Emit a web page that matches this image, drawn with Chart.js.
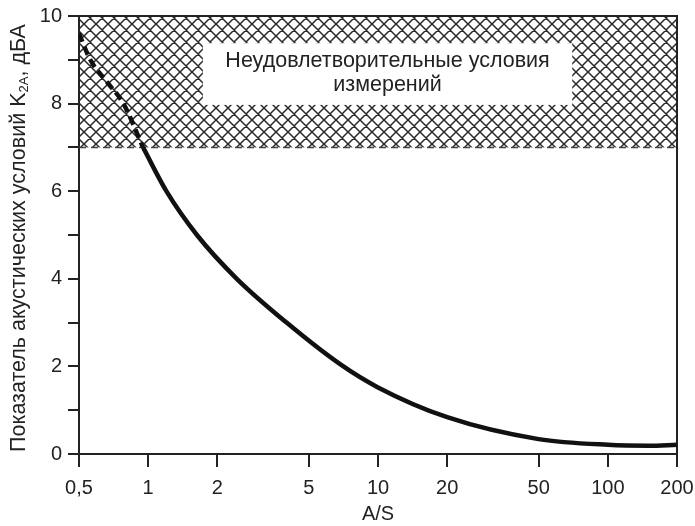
<!DOCTYPE html>
<html>
<head>
<meta charset="utf-8">
<script src="https://cdn.jsdelivr.net/npm/chart.js@4.4.0/dist/chart.umd.min.js"></script>
<style>
  html, body { margin: 0; padding: 0; background: #fff; }
  #wrap { width: 695px; height: 526px; }
</style>
</head>
<body>
<div id="wrap"><canvas id="k2aChart"></canvas></div>
<script>
// A/S ticks and the K2A curve
const xTicks = [0.5, 1, 2, 5, 10, 20, 50, 100, 200];
const dashedAS = [0.5, 0.56, 0.66, 0.78, 0.95];
const dashedK = [9.6, 9.0, 8.5, 8.0, 7.0];
const solidAS = [0.95, 1.2, 1.63, 2.43, 4.0, 6.84, 10, 20, 50, 100, 150, 200];
const solidK = [7.0, 6.0, 5.0, 4.0, 3.0, 2.05, 1.52, 0.84, 0.34, 0.21, 0.19, 0.21];
const badZone = [7, 10];
const zoneText = ['Неудовлетворительные условия', 'измерений'];

const ink = '#222';
const font = '"Liberation Sans", Arial, sans-serif';

function toPoints(xs, ys) {
  return xs.map((x, i) => ({ x: x, y: ys[i] }));
}

function hatchPattern(ctx) {
  const s = 12;
  const c = document.createElement('canvas');
  c.width = s; c.height = s;
  const g = c.getContext('2d');
  g.strokeStyle = '#2a2a2a';
  g.lineWidth = 1.5;
  g.beginPath();
  // both diagonals, plus the neighbours' pieces so the tiles join cleanly
  [-s, 0, s].forEach(k => {
    g.moveTo(k - 2, -2); g.lineTo(k + s + 2, s + 2);
    g.moveTo(k + s + 2, -2); g.lineTo(k - 2, s + 2);
  });
  g.stroke();
  return ctx.createPattern(c, 'repeat');
}

const zonePlugin = {
  id: 'zone',
  beforeDatasetsDraw(chart, args, opts) {
    const { ctx, chartArea: a, scales: { x, y } } = chart;
    const top = y.getPixelForValue(badZone[1]);
    const bot = y.getPixelForValue(badZone[0]);
    ctx.save();
    ctx.fillStyle = hatchPattern(ctx);
    ctx.fillRect(a.left, top, a.right - a.left, bot - top);

    // white label box
    const bx0 = x.getPixelForValue(opts.box.x0), bx1 = x.getPixelForValue(opts.box.x1);
    const by0 = y.getPixelForValue(opts.box.y1), by1 = y.getPixelForValue(opts.box.y0);
    ctx.fillStyle = '#fff';
    ctx.fillRect(bx0, by0, bx1 - bx0, by1 - by0);
    ctx.fillStyle = ink;
    ctx.font = '21.5px ' + font;
    ctx.textAlign = 'center';
    ctx.textBaseline = 'alphabetic';
    const cx = (bx0 + bx1) / 2;
    ctx.fillText(zoneText[0], cx, by0 + 24);
    ctx.fillText(zoneText[1], cx, by0 + 48);

    // dashed lower edge of the zone
    ctx.strokeStyle = '#444';
    ctx.lineWidth = 1.5;
    ctx.setLineDash([7, 5]);
    ctx.beginPath();
    ctx.moveTo(a.left, bot); ctx.lineTo(a.right, bot);
    ctx.stroke();
    ctx.setLineDash([]);

    // top and right frame
    ctx.strokeStyle = ink;
    ctx.lineWidth = 2;
    ctx.beginPath();
    ctx.moveTo(a.left, a.top); ctx.lineTo(a.right, a.top); ctx.lineTo(a.right, a.bottom);
    ctx.stroke();
    ctx.restore();
  },
  afterDraw(chart) {
    // y title with subscript K2A
    const { ctx, chartArea: a } = chart;
    const parts = [
      { t: 'Показатель акустических условий K', f: '21.5px ' + font, dy: 0 },
      { t: '2A', f: '13px ' + font, dy: 5 },
      { t: ', дБА', f: '21.5px ' + font, dy: 0 }
    ];
    ctx.save();
    ctx.translate(19, 238);
    ctx.rotate(-Math.PI / 2);
    ctx.fillStyle = ink;
    ctx.textBaseline = 'middle';
    ctx.textAlign = 'left';
    let total = 0;
    parts.forEach(p => { ctx.font = p.f; p.w = ctx.measureText(p.t).width; total += p.w; });
    let px = -total / 2;
    parts.forEach(p => { ctx.font = p.f; ctx.fillText(p.t, px, p.dy); px += p.w; });
    ctx.restore();
  }
};

const ctxK = document.getElementById('k2aChart').getContext('2d');
const k2aChart = new Chart(ctxK, {
  type: 'line',
  data: {
    datasets: [
      {
        data: toPoints(dashedAS, dashedK),
        borderColor: '#111',
        borderWidth: 4.5,
        borderDash: [9, 5],
        pointRadius: 0,
        cubicInterpolationMode: 'monotone'
      },
      {
        data: toPoints(solidAS, solidK),
        borderColor: '#111',
        borderWidth: 4.5,
        pointRadius: 0,
        cubicInterpolationMode: 'monotone'
      }
    ]
  },
  options: {
    responsive: true,
    maintainAspectRatio: false,
    animation: false,
    layout: { padding: { top: 16, right: 18, left: 0, bottom: 0 } },
    plugins: {
      legend: { display: false },
      tooltip: { enabled: false },
      zone: { box: { x0: 1.73, x1: 70, y0: 7.97, y1: 9.38 } }
    },
    scales: {
      x: {
        type: 'logarithmic',
        min: 0.5,
        max: 200,
        afterBuildTicks: s => { s.ticks = xTicks.map(v => ({ value: v })); },
        afterFit: s => { s.height = 72; s.paddingLeft = 0; s.paddingRight = 0; },
        ticks: {
          autoSkip: false,
          maxRotation: 0,
          padding: 9,
          color: ink,
          font: { family: font, size: 20 },
          callback: v => String(v).replace('.', ',')
        },
        grid: { drawOnChartArea: false, drawTicks: true, tickLength: 13, color: ink, lineWidth: 2 },
        border: { display: true, color: ink, width: 2 },
        title: { display: true, text: 'A/S', color: ink, font: { family: font, size: 20 }, padding: 0 }
      },
      y: {
        min: 0,
        max: 10,
        afterFit: s => { s.width = 79; s.paddingTop = 0; s.paddingBottom = 0; },
        ticks: {
          stepSize: 1,
          padding: 6,
          color: ink,
          font: { family: font, size: 20 },
          callback: v => (v % 2 === 0 ? v : '')
        },
        grid: { drawOnChartArea: false, drawTicks: true, tickLength: 11, color: ink, lineWidth: 2 },
        border: { display: true, color: ink, width: 2 }
      }
    }
  },
  plugins: [zonePlugin]
});
</script>
</body>
</html>
